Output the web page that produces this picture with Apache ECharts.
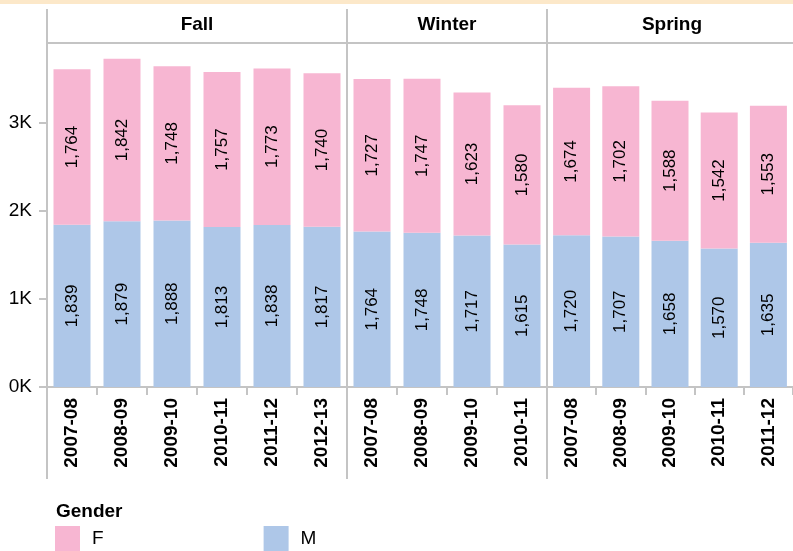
<!DOCTYPE html>
<html>
<head>
<meta charset="utf-8">
<script src="https://cdn.jsdelivr.net/npm/echarts@6/dist/echarts.min.js"></script>
<style>
  html, body { margin: 0; padding: 0; background: #fff; }
  #main { width: 793px; height: 551px; }
</style>
</head>
<body>
<div id="main"></div>
<script>
// facets and their school years
const facets = ['Fall', 'Winter', 'Spring'];
const fallYears = ['2007-08', '2008-09', '2009-10', '2010-11', '2011-12', '2012-13'];
const winterYears = ['2007-08', '2008-09', '2009-10', '2010-11'];
const springYears = ['2007-08', '2008-09', '2009-10', '2010-11', '2011-12'];

// counts by gender
const fallF = [1764, 1842, 1748, 1757, 1773, 1740];
const fallM = [1839, 1879, 1888, 1813, 1838, 1817];
const winterF = [1727, 1747, 1623, 1580];
const winterM = [1764, 1748, 1717, 1615];
const springF = [1674, 1702, 1588, 1542, 1553];
const springM = [1720, 1707, 1658, 1570, 1635];

const yTicks = [0, 1000, 2000, 3000];
const genders = ['F', 'M'];

const colF = '#f7b6d2';
const colM = '#aec7e8';
const lineCol = '#c4c4c4';
const font = '"Liberation Sans", Arial, sans-serif';

const chart = echarts.init(document.getElementById('main'));

const years = [fallYears, winterYears, springYears];
const dataM = [fallM, winterM, springM];
const dataF = [fallF, winterF, springF];

// facet geometry: 50px per category
const left0 = 47, band = 50, plotTop = 43, plotH = 344;
let lefts = [], xPos = left0;
years.forEach(y => { lefts.push(xPos); xPos += y.length * band; });

const grids = [], xAxes = [], yAxes = [], series = [];
years.forEach((yr, i) => {
  grids.push({ left: lefts[i], top: plotTop, width: yr.length * band, height: plotH, containLabel: false });
  xAxes.push({
    type: 'category', gridIndex: i, data: yr,
    axisLine: { lineStyle: { color: lineCol, width: 2 } },
    axisTick: { show: true, length: 8, lineStyle: { color: lineCol, width: 2 } },
    axisLabel: { rotate: 90, margin: 11, fontFamily: font, fontSize: 19, fontWeight: 'bold', color: '#000' }
  });
  yAxes.push({
    type: 'value', gridIndex: i, min: 0, max: 3900,
    show: i === 0,
    splitLine: { show: false },
    axisLine: { show: false },
    axisTick: { show: i === 0, length: 8, customValues: yTicks, lineStyle: { color: lineCol, width: 2 } },
    axisLabel: {
      show: i === 0, customValues: yTicks, margin: 15,
      fontFamily: font, fontSize: 19, color: '#000',
      formatter: v => (v / 1000) + 'K'
    }
  });
  const lbl = {
    show: true, position: 'inside', rotate: 90,
    fontFamily: font, fontSize: 17, color: '#000',
    formatter: p => p.value.toLocaleString('en-US')
  };
  series.push({
    name: 'M', type: 'bar', stack: 's' + i, xAxisIndex: i, yAxisIndex: i,
    data: dataM[i], barWidth: 37, itemStyle: { color: colM }, label: lbl
  });
  series.push({
    name: 'F', type: 'bar', stack: 's' + i, xAxisIndex: i, yAxisIndex: i,
    data: dataF[i], barWidth: 37, itemStyle: { color: colF }, label: lbl
  });
});

// header / grid lines and facet titles
const graphics = [
  { type: 'rect', shape: { x: 0, y: 0, width: 793, height: 4 }, style: { fill: '#fce8c9' } },
  { type: 'line', shape: { x1: left0, y1: plotTop, x2: 793, y2: plotTop }, style: { stroke: lineCol, lineWidth: 2 } },
  { type: 'text', left: 56, top: 502, style: { text: 'Gender', font: 'bold 19px ' + font, fill: '#000' } }
];
lefts.forEach((l, i) => {
  graphics.push({ type: 'line', shape: { x1: l, y1: 9, x2: l, y2: 479 }, style: { stroke: lineCol, lineWidth: 2 } });
  graphics.push({
    type: 'text', x: l + years[i].length * band / 2, y: 25,
    style: { text: facets[i], font: 'bold 19px ' + font, fill: '#000', align: 'center', verticalAlign: 'middle' }
  });
});

chart.setOption({
  animation: false,
  grid: grids,
  xAxis: xAxes,
  yAxis: yAxes,
  series: series,
  legend: {
    data: genders, left: 50, top: 521,
    itemWidth: 25, itemHeight: 25, itemGap: 160,
    icon: 'rect',
    textStyle: { fontFamily: font, fontSize: 19, color: '#000', width: 25, padding: [0, 0, 0, 7] }
  },
  graphic: graphics
});
</script>
</body>
</html>
